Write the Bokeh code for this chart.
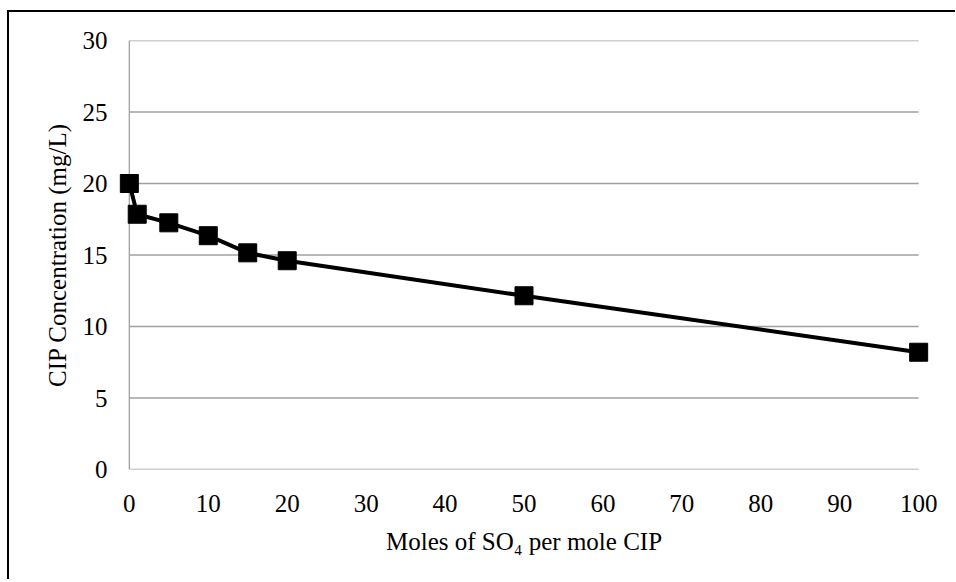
from bokeh.plotting import figure
from bokeh.models import Range1d, FixedTicker
from bokeh.embed import file_html
from bokeh.resources import INLINE

# Data
moles_so4 = [0, 1, 5, 10, 15, 20, 50, 100]
cip_conc = [20.0, 17.85, 17.25, 16.35, 15.15, 14.6, 12.15, 8.2]
x_ticks = [0, 10, 20, 30, 40, 50, 60, 70, 80, 90, 100]
y_ticks = [0, 5, 10, 15, 20, 25, 30]

FONT = "Liberation Serif"
FS = "25px"
GRID = "#a0a0a0"

x_min, x_max = x_ticks[0], x_ticks[-1]
y_min, y_max = y_ticks[0], y_ticks[-1]
pad = 1.5  # room so the end markers are not clipped by the frame

p = figure(
    frame_width=813, frame_height=429,
    min_border_left=108, min_border_top=28, min_border_right=25, min_border_bottom=110,
    x_range=Range1d(x_min - pad, x_max + pad), y_range=Range1d(y_min, y_max),
    output_backend="svg", toolbar_location=None,
)
p.styles = {"border-left": "2px solid black", "border-top": "2px solid black",
            "margin-top": "10px", "margin-left": "7px"}
p.outline_line_color = None
p.background_fill_color = "white"
p.border_fill_color = "white"

# horizontal gridlines spanning the data extent, and the vertical value-axis line
p.segment(x0=[x_min] * len(y_ticks), x1=[x_max] * len(y_ticks), y0=y_ticks, y1=y_ticks,
          line_color=GRID, line_width=1.3)
p.segment(x0=[x_min], x1=[x_min], y0=[y_min], y1=[y_max], line_color=GRID, line_width=1.3)

p.line(moles_so4, cip_conc, line_color="black", line_width=4)
p.scatter(moles_so4, cip_conc, marker="square", size=18, fill_color="black", line_color="black")

p.xgrid.visible = False
p.ygrid.visible = False

p.xaxis.ticker = FixedTicker(ticks=x_ticks)
p.yaxis.ticker = FixedTicker(ticks=y_ticks)

for ax in (p.xaxis[0], p.yaxis[0]):
    ax.axis_line_color = None
    ax.major_tick_line_color = None
    ax.minor_tick_line_color = None
    ax.major_tick_out = 0
    ax.major_tick_in = 0
    ax.minor_tick_out = 0
    ax.major_label_text_font = FONT
    ax.major_label_text_font_size = FS
    ax.major_label_text_color = "black"
    ax.axis_label_text_font = FONT
    ax.axis_label_text_font_size = FS
    ax.axis_label_text_font_style = "normal"
    ax.axis_label_text_color = "black"

p.xaxis.axis_label = "Moles of SO\u2084 per mole CIP"
p.yaxis.axis_label = "CIP Concentration (mg/L)"
p.xaxis.major_label_standoff = 25
p.yaxis.major_label_standoff = 10
p.xaxis.axis_label_standoff = 13
p.yaxis.axis_label_standoff = 9

open("out.html", "w").write(file_html(p, INLINE))
